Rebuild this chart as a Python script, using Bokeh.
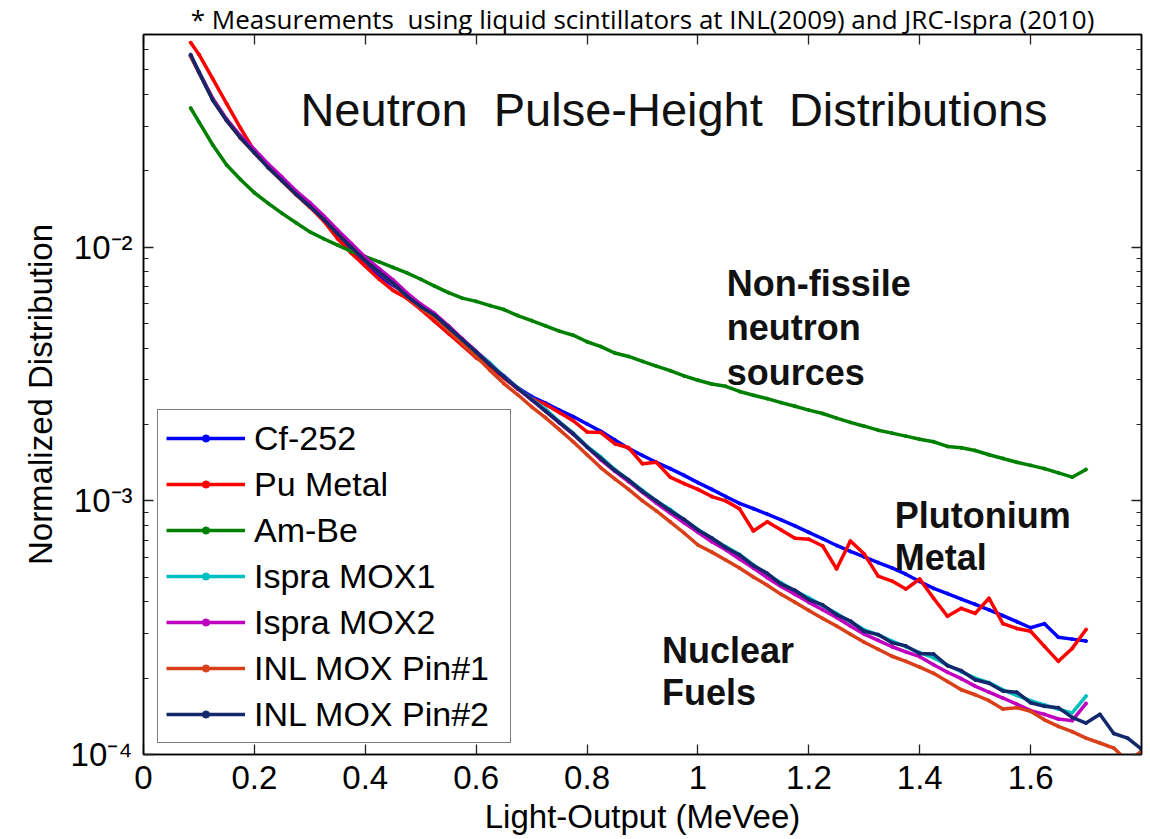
from bokeh.plotting import figure
from bokeh.models import (ColumnDataSource, Range1d, LogAxis, LinearAxis, FixedTicker,
                          CustomJSTickFormatter, Label, Legend, LegendItem)
from bokeh.embed import file_html
from bokeh.resources import INLINE

# ---------------- data ----------------
LIGHT_OUTPUT = [0.085,
    0.1, 0.125, 0.15, 0.175, 0.2, 0.225, 0.25, 0.275, 0.3, 0.325, 0.35, 0.375,
    0.4, 0.425, 0.45, 0.475, 0.5, 0.525, 0.55, 0.575, 0.6, 0.625, 0.65, 0.675,
    0.7, 0.725, 0.75, 0.775, 0.8, 0.825, 0.85, 0.875, 0.9, 0.925, 0.95, 0.975,
    1.0, 1.025, 1.05, 1.075, 1.1, 1.125, 1.15, 1.175, 1.2, 1.225, 1.25, 1.275,
    1.3, 1.325, 1.35, 1.375, 1.4, 1.425, 1.45, 1.475, 1.5, 1.525, 1.55, 1.575,
    1.6, 1.625, 1.65, 1.675, 1.7, 1.725, 1.75, 1.775, 1.8]

CF252 = [0.0569,
    0.0490, 0.0383, 0.0317, 0.0271,
    0.0236, 0.0207, 0.0183, 0.0162,
    0.0145, 0.0128, 0.01105, 0.00973,
    0.00864, 0.00768, 0.00708, 0.00652,
    0.00585, 0.00525, 0.00468, 0.00418,
    0.00378, 0.00344, 0.00311, 0.00279,
    0.00258, 0.00243, 0.00228, 0.00215,
    0.00201, 0.00188, 0.00174, 0.00161,
    0.00151, 0.00142, 0.00134, 0.00126,
    0.00118, 0.00111, 0.00104, 0.000977,
    0.000932, 0.000887, 0.000842, 0.000797,
    0.000751, 0.000709, 0.000667, 0.000632,
    0.000601, 0.000571, 0.000544, 0.000514,
    0.000481, 0.000452, 0.000431, 0.000410,
    0.000391, 0.000372, 0.000353, 0.000334,
    0.000316, 0.000328, 0.000290, 0.000285,
    0.000280]

PU_METAL = [0.0641,
    0.0576, 0.0461, 0.0368, 0.0295,
    0.0240, 0.0209, 0.0184, 0.0162,
    0.0144, 0.0127, 0.0108, 0.00947,
    0.00841, 0.00748, 0.00676, 0.00629,
    0.00569, 0.00510, 0.00457, 0.00410,
    0.00367, 0.00338, 0.00305, 0.00276,
    0.00253, 0.00240, 0.00223, 0.00207,
    0.00187, 0.00186, 0.00168, 0.00162,
    0.00140, 0.00142, 0.00124, 0.00117,
    0.00111, 0.00104, 0.00100, 0.000930,
    0.000761, 0.000827, 0.000768, 0.000713,
    0.000706, 0.000664, 0.000539, 0.000695,
    0.000617, 0.000505, 0.000483, 0.000449,
    0.000492, 0.000413, 0.000351, 0.000377,
    0.000360, 0.000413, 0.000328, 0.000314,
    0.000306, 0.000267, 0.000233, 0.000262,
    0.000311]

AM_BE = [0.0354,
    0.0312, 0.0253, 0.0211, 0.0185,
    0.0164, 0.0149, 0.0136, 0.0125,
    0.0115, 0.0108, 0.0102, 0.00963,
    0.00918, 0.00876, 0.00833, 0.00793,
    0.00748, 0.00703, 0.00662, 0.00630,
    0.00612, 0.00589, 0.00568, 0.00538,
    0.00514, 0.00490, 0.00467, 0.00450,
    0.00424, 0.00406, 0.00383, 0.00371,
    0.00355, 0.00340, 0.00326, 0.00311,
    0.00299, 0.00289, 0.00283, 0.00270,
    0.00261, 0.00253, 0.00244, 0.00236,
    0.00228, 0.00221, 0.00212, 0.00204,
    0.00197, 0.00190, 0.00185, 0.00180,
    0.00175, 0.00171, 0.00164, 0.00162,
    0.00158, 0.00152, 0.00147, 0.00142,
    0.00138, 0.00134, 0.00129, 0.00124,
    0.00133]

ISPRA_MOX1 = [0.0569,
    0.0492, 0.0384, 0.0318, 0.0272,
    0.0237, 0.0208, 0.0184, 0.0163,
    0.0146, 0.0130, 0.0114, 0.0101,
    0.00891, 0.00803, 0.00726, 0.00645,
    0.00585, 0.00538, 0.00490, 0.00434,
    0.00388, 0.00350, 0.00309, 0.00279,
    0.00252, 0.00230, 0.00205, 0.00185,
    0.00164, 0.00149, 0.00133, 0.00121,
    0.00110, 0.00100, 0.000925, 0.000842,
    0.000771, 0.000712, 0.000660, 0.000615,
    0.000559, 0.000513, 0.000475, 0.000441,
    0.000415, 0.000386, 0.000360, 0.000334,
    0.000310, 0.000296, 0.000280, 0.000266,
    0.000252, 0.000241, 0.000225, 0.000212,
    0.000200, 0.000192, 0.000180, 0.000171,
    0.000163, 0.000157, 0.000151, 0.000146,
    0.000170]

ISPRA_MOX2 = [0.0569,
    0.0492, 0.0386, 0.0320, 0.0275,
    0.0243, 0.0213, 0.0189, 0.0167,
    0.0150, 0.0133, 0.0117, 0.01035,
    0.00913, 0.00823, 0.00744, 0.00661,
    0.00597, 0.00548, 0.00490, 0.00436,
    0.00389, 0.00345, 0.00308, 0.00277,
    0.00250, 0.00226, 0.00203, 0.00183,
    0.00163, 0.00145, 0.00131, 0.00119,
    0.00108, 0.000980, 0.000895, 0.000820,
    0.000752, 0.000690, 0.000642, 0.000590,
    0.000543, 0.000498, 0.000460, 0.000428,
    0.000398, 0.000372, 0.000347, 0.000321,
    0.000298, 0.000282, 0.000266, 0.000254,
    0.000243, 0.000226, 0.000211, 0.000199,
    0.000186, 0.000176, 0.000167, 0.000158,
    0.000149, 0.000144, 0.000138, 0.000136,
    0.000159]

INL_PIN1 = [0.0565,
    0.0488, 0.0381, 0.0315, 0.0269,
    0.0235, 0.0206, 0.0182, 0.0161,
    0.0144, 0.0129, 0.0113, 0.0100,
    0.00882, 0.00795, 0.00718, 0.00639,
    0.00575, 0.00529, 0.00470, 0.00417,
    0.00371, 0.00327, 0.00290, 0.00262,
    0.00235, 0.00213, 0.00191, 0.00171,
    0.00152, 0.00135, 0.00122, 0.00111,
    0.00100, 0.000913, 0.000827, 0.000747,
    0.000670, 0.000628, 0.000585, 0.000544,
    0.000501, 0.000465, 0.000428, 0.000398,
    0.000370, 0.000344, 0.000321, 0.000298,
    0.000277, 0.000260, 0.000244, 0.000233,
    0.000221, 0.000209, 0.000194, 0.000180,
    0.000172, 0.000163, 0.000151, 0.000153,
    0.000148, 0.000137, 0.000129, 0.000123,
    0.000116, 0.000111, 0.000106, 0.000094, 0.000103]

INL_PIN2 = [0.0575,
    0.0490, 0.0380, 0.0316, 0.0270,
    0.0236, 0.0206, 0.0183, 0.0162,
    0.0145, 0.0129, 0.0113, 0.0100,
    0.00885, 0.00798, 0.00722, 0.00642,
    0.00583, 0.00540, 0.00483, 0.00432,
    0.00386, 0.00344, 0.00308, 0.00278,
    0.00251, 0.00226, 0.00204, 0.00184,
    0.00163, 0.00147, 0.00132, 0.00121,
    0.00109, 0.00100, 0.000915, 0.000845,
    0.000768, 0.000714, 0.000655, 0.000612,
    0.000556, 0.000518, 0.000470, 0.000444,
    0.000408, 0.000389, 0.000356, 0.000336,
    0.000306, 0.000297, 0.000276, 0.000268,
    0.000250, 0.000249, 0.000224, 0.000214,
    0.000197, 0.000191, 0.000178, 0.000176,
    0.000160, 0.000155, 0.000153, 0.000140,
    0.000133, 0.000144, 0.000121, 0.000116, 0.000105]

SERIES_NAMES = ["Cf-252", "Pu Metal", "Am-Be", "Ispra MOX1", "Ispra MOX2",
                "INL MOX Pin#1", "INL MOX Pin#2"]
SERIES_VALUES = [CF252, PU_METAL, AM_BE, ISPRA_MOX1, ISPRA_MOX2, INL_PIN1, INL_PIN2]
SERIES_COLORS = ["#0000FF", "#FF0000", "#008000", "#00BFBF", "#BF00BF",
                 "#D9401A", "#12286B"]

for vals in SERIES_VALUES[:5]:
    assert len(vals) == 66, len(vals)
for vals in SERIES_VALUES[5:]:
    assert len(vals) == 70, len(vals)

X_TICKS = [0, 0.2, 0.4, 0.6, 0.8, 1.0, 1.2, 1.4, 1.6]
Y_MAJOR = [1e-4, 1e-3, 1e-2]
Y_MINOR = [m * d for d in (1e-4, 1e-3, 1e-2) for m in range(2, 10) if m * d < 0.069]

NB = "\u00a0"
TITLE = "* Measurements" + NB + NB + "using liquid scintillators at INL(2009) and JRC-Ispra (2010)"
HEADLINE = "Neutron" + NB + NB + "Pulse-Height" + NB + NB + "Distributions"
FONT = "Liberation Sans"

# ---------------- figure ----------------
p = figure(width=1150, height=839, y_axis_type="log",
           x_range=Range1d(0, 1.8), y_range=Range1d(1e-4, 0.069),
           output_backend="svg", toolbar_location=None, title=TITLE)
p.min_border_left = 143
p.min_border_right = 9
p.min_border_bottom = 85
p.min_border_top = 0
p.background_fill_color = "white"
p.border_fill_color = "white"
p.outline_line_color = "black"
p.outline_line_width = 1.5
p.xgrid.visible = False
p.ygrid.visible = False

p.title.text_font = "Open Sans"
p.title.text_font_size = "26px"
p.title.text_font_style = "normal"
p.title.text_color = "black"
p.title.align = "center"
p.title.standoff = -4

xfmt = CustomJSTickFormatter(code="""
    if (Math.abs(tick) < 1e-9) return '0';
    return String(Math.round(tick * 10) / 10);
""")
yfmt = CustomJSTickFormatter(code="""
    const e = Math.round(Math.log10(tick));
    const sup = {'-':'\u207B','0':'\u2070','1':'\u00B9','2':'\u00B2','3':'\u00B3',
                 '4':'\u2074','5':'\u2075','6':'\u2076','7':'\u2077','8':'\u2078','9':'\u2079'};
    return '10' + String(e).split('').map(c => sup[c]).join('');
""")

xticker = FixedTicker(ticks=X_TICKS)
yticker = FixedTicker(ticks=Y_MAJOR, minor_ticks=Y_MINOR)

def style_axis(ax):
    ax.axis_line_color = "black"
    ax.axis_line_width = 1.5
    ax.major_tick_in = 10
    ax.major_tick_out = 0
    ax.minor_tick_in = 5
    ax.minor_tick_out = 0
    ax.major_tick_line_color = "#222222"
    ax.minor_tick_line_color = "#222222"
    ax.major_tick_line_width = 1.3
    ax.minor_tick_line_width = 1.0
    ax.major_label_text_font = FONT
    ax.major_label_text_font_size = "33px"
    ax.major_label_text_color = "black"
    ax.axis_label_text_font = FONT
    ax.axis_label_text_font_size = "33px"
    ax.axis_label_text_font_style = "normal"
    ax.axis_label_text_color = "black"

xa = p.xaxis[0]
xa.ticker = xticker
xa.formatter = xfmt
style_axis(xa)
xa.major_label_standoff = 11
xa.axis_label = "Light-Output (MeVee)"
xa.axis_label_standoff = 6

ya = p.yaxis[0]
ya.ticker = yticker
ya.formatter = yfmt
style_axis(ya)
ya.major_label_standoff = 11
ya.axis_label = "Normalized Distribution"
ya.axis_label_standoff = 9

top = LinearAxis(ticker=xticker, formatter=xfmt)
style_axis(top)
top.major_label_text_font_size = "1px"
top.major_label_text_color = None
top.major_label_standoff = 0
p.add_layout(top, "above")

right = LogAxis(ticker=yticker, formatter=yfmt)
style_axis(right)
right.major_label_text_font_size = "1px"
right.major_label_text_color = None
right.major_label_standoff = 0
p.add_layout(right, "right")

# ---------------- curves ----------------
items = []
for name, vals, col in zip(SERIES_NAMES, SERIES_VALUES, SERIES_COLORS):
    src = ColumnDataSource(dict(x=LIGHT_OUTPUT[:len(vals)], y=vals))
    lr = p.line("x", "y", source=src, line_color=col, line_width=3.5)
    sr = p.scatter("x", "y", source=src, size=3, fill_color=col, line_color=col)
    items.append(LegendItem(label=name, renderers=[lr, sr]))

legend = Legend(items=items, location=(14, 11))
legend.label_text_font = FONT
legend.label_text_font_size = "34px"
legend.label_text_color = "black"
legend.glyph_width = 79
legend.glyph_height = 18
legend.label_height = 40
legend.label_width = 248
legend.spacing = 6
legend.padding = 8
legend.margin = 0
legend.label_standoff = 9
legend.border_line_color = "black"
legend.border_line_width = 1.5
legend.background_fill_color = "white"
legend.background_fill_alpha = 1.0
p.add_layout(legend)

# ---------------- annotations ----------------
def add_text(x, y, text, size, bold):
    p.add_layout(Label(x=x, y=y, text=text, text_font=FONT, text_font_size=size,
                       text_font_style="bold" if bold else "normal",
                       text_color="#111111", text_baseline="alphabetic",
                       text_align="left"))

add_text(0.283, 0.0348, HEADLINE, "47px", False)
add_text(1.052, 0.00720, "Non-fissile", "36px", True)
add_text(1.052, 0.00483, "neutron", "36px", True)
add_text(1.052, 0.00320, "sources", "36px", True)
add_text(1.355, 0.000872, "Plutonium", "36px", True)
add_text(1.355, 0.000596, "Metal", "36px", True)
add_text(0.935, 0.000258, "Nuclear", "36px", True)
add_text(0.935, 0.000176, "Fuels", "36px", True)

open("out.html", "w").write(file_html(p, INLINE))
